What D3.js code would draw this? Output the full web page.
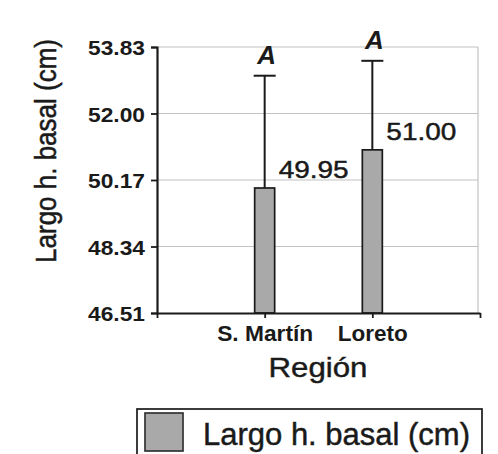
<!DOCTYPE html>
<html>
<head>
<meta charset="utf-8">
<script src="https://cdn.jsdelivr.net/npm/d3@7"></script>
<style>
  html, body { margin: 0; padding: 0; background: #fff; }
  svg { display: block; font-family: "Liberation Sans", Arial, sans-serif; }
  .heavy { stroke: #1a1a1a; stroke-width: 0.45px; }
</style>
</head>
<body>
<svg id="chart" width="498" height="454"></svg>
<script>
// Mean basal leaf length per region, upper error and significance letters
const regions = ["S. Martín", "Loreto"];
const means = [49.95, 51.00];
const errUp = [3.09, 2.45];
const letters = ["A", "A"];
const meanLabels = ["49.95", "51.00"];
const yTickLabels = ["46.51", "48.34", "50.17", "52.00", "53.83"];

const svg = d3.select("#chart");
const ink = "#1a1a1a";
const barFill = "#a9a9a9";

const yTicks = yTickLabels.map(Number);
const y = d3.scaleLinear().domain([yTicks[0], yTicks[yTicks.length - 1]]).range([313, 47]);
const x = d3.scaleLinear().domain([0, regions.length + 1]).range([157, 480]);
const barW = 20;

// light grid and frame
const grid = svg.append("g").attr("stroke", "#c2c2c2").attr("stroke-width", 1.2);
grid.selectAll("line.h").data(yTicks.slice(1)).join("line")
  .attr("x1", x(0)).attr("x2", 478)
  .attr("y1", d => y(d)).attr("y2", d => y(d));
grid.append("line").attr("x1", 478).attr("x2", 478).attr("y1", y(yTicks[yTicks.length - 1])).attr("y2", y(yTicks[0]));

// bars
const idx = d3.range(regions.length);
svg.append("g").selectAll("rect").data(idx).join("rect")
  .attr("x", i => x(i + 1) - barW / 2)
  .attr("y", i => y(means[i]))
  .attr("width", barW)
  .attr("height", i => y(yTicks[0]) - y(means[i]))
  .attr("fill", barFill).attr("stroke", ink).attr("stroke-width", 1.7);

// upper error whiskers with caps
const eb = svg.append("g").attr("stroke", ink).attr("stroke-width", 2);
eb.selectAll("line.w").data(idx).join("line")
  .attr("x1", i => x(i + 1)).attr("x2", i => x(i + 1))
  .attr("y1", i => y(means[i])).attr("y2", i => y(means[i] + errUp[i]));
eb.selectAll("line.c").data(idx).join("line")
  .attr("x1", i => x(i + 1) - 11).attr("x2", i => x(i + 1) + 11)
  .attr("y1", i => y(means[i] + errUp[i])).attr("y2", i => y(means[i] + errUp[i]));

// significance letters
svg.append("g").selectAll("text").data(idx).join("text")
  .attr("x", i => x(i + 1) + 2)
  .attr("y", i => y(means[i] + errUp[i]) - 12)
  .attr("text-anchor", "middle")
  .attr("font-size", 26).attr("font-weight", "bold").attr("font-style", "italic")
  .attr("fill", ink)
  .text(i => letters[i]);

// mean value labels
svg.append("g").selectAll("text").data(idx).join("text")
  .attr("class", "heavy")
  .attr("x", i => x(i + 1) + 14)
  .attr("y", i => y(means[i]) - 10)
  .attr("font-size", 24).attr("fill", ink)
  .attr("textLength", 70).attr("lengthAdjust", "spacingAndGlyphs")
  .text(i => meanLabels[i]);

// y axis
const yAxis = svg.append("g").attr("transform", `translate(${x(0)},0)`)
  .call(d3.axisLeft(y).tickValues(yTicks).tickSize(6).tickFormat((d, i) => yTickLabels[i]));
yAxis.select(".domain").attr("stroke", ink).attr("stroke-width", 2.2);
yAxis.selectAll(".tick line").attr("stroke", ink).attr("stroke-width", 1.8);
yAxis.selectAll(".tick text")
  .attr("x", -12).attr("dy", "0.36em")
  .attr("font-size", 21).attr("font-weight", "bold").attr("fill", ink)
  .attr("font-family", "Liberation Sans, Arial, sans-serif")
  .attr("textLength", 57).attr("lengthAdjust", "spacingAndGlyphs");

// x axis
const xAxis = svg.append("g").attr("transform", `translate(0,${y(yTicks[0])})`)
  .call(d3.axisBottom(x).tickValues(d3.range(regions.length + 2)).tickSize(5).tickSizeOuter(0)
    .tickFormat(d => regions[d - 1] || ""));
xAxis.select(".domain").attr("stroke", ink).attr("stroke-width", 2.2);
xAxis.selectAll(".tick line").attr("stroke", ink).attr("stroke-width", 1.8);
xAxis.selectAll(".tick text")
  .attr("y", 12).attr("dy", "0.71em")
  .attr("font-size", 22).attr("font-weight", "bold").attr("fill", ink)
  .attr("font-family", "Liberation Sans, Arial, sans-serif")
  .each(function (d) {
    const w = [0, 96, 70, 0][d];
    if (w) d3.select(this).attr("textLength", w).attr("lengthAdjust", "spacingAndGlyphs");
  });

// axis titles
svg.append("text")
  .attr("class", "heavy")
  .attr("transform", "translate(56,151) scale(1.17,1) rotate(-90)")
  .attr("text-anchor", "middle").attr("font-size", 26).attr("fill", ink)
  .text("Largo h. basal (cm)");
svg.append("text")
  .attr("class", "heavy")
  .attr("x", 318).attr("y", 377).attr("text-anchor", "middle")
  .attr("font-size", 28).attr("fill", ink)
  .attr("textLength", 99).attr("lengthAdjust", "spacingAndGlyphs")
  .text("Región");

// legend
const lg = svg.append("g");
lg.append("rect").attr("x", 137).attr("y", 409).attr("width", 345).attr("height", 60)
  .attr("fill", "#fff").attr("stroke", ink).attr("stroke-width", 1.7);
lg.append("rect").attr("x", 145).attr("y", 413).attr("width", 38).attr("height", 38)
  .attr("fill", barFill).attr("stroke", "#333").attr("stroke-width", 1.7);
lg.append("text").attr("class", "heavy").attr("x", 203).attr("y", 445)
  .attr("font-size", 31).attr("fill", ink)
  .attr("textLength", 267).attr("lengthAdjust", "spacingAndGlyphs")
  .text("Largo h. basal (cm)");
</script>
</body>
</html>
